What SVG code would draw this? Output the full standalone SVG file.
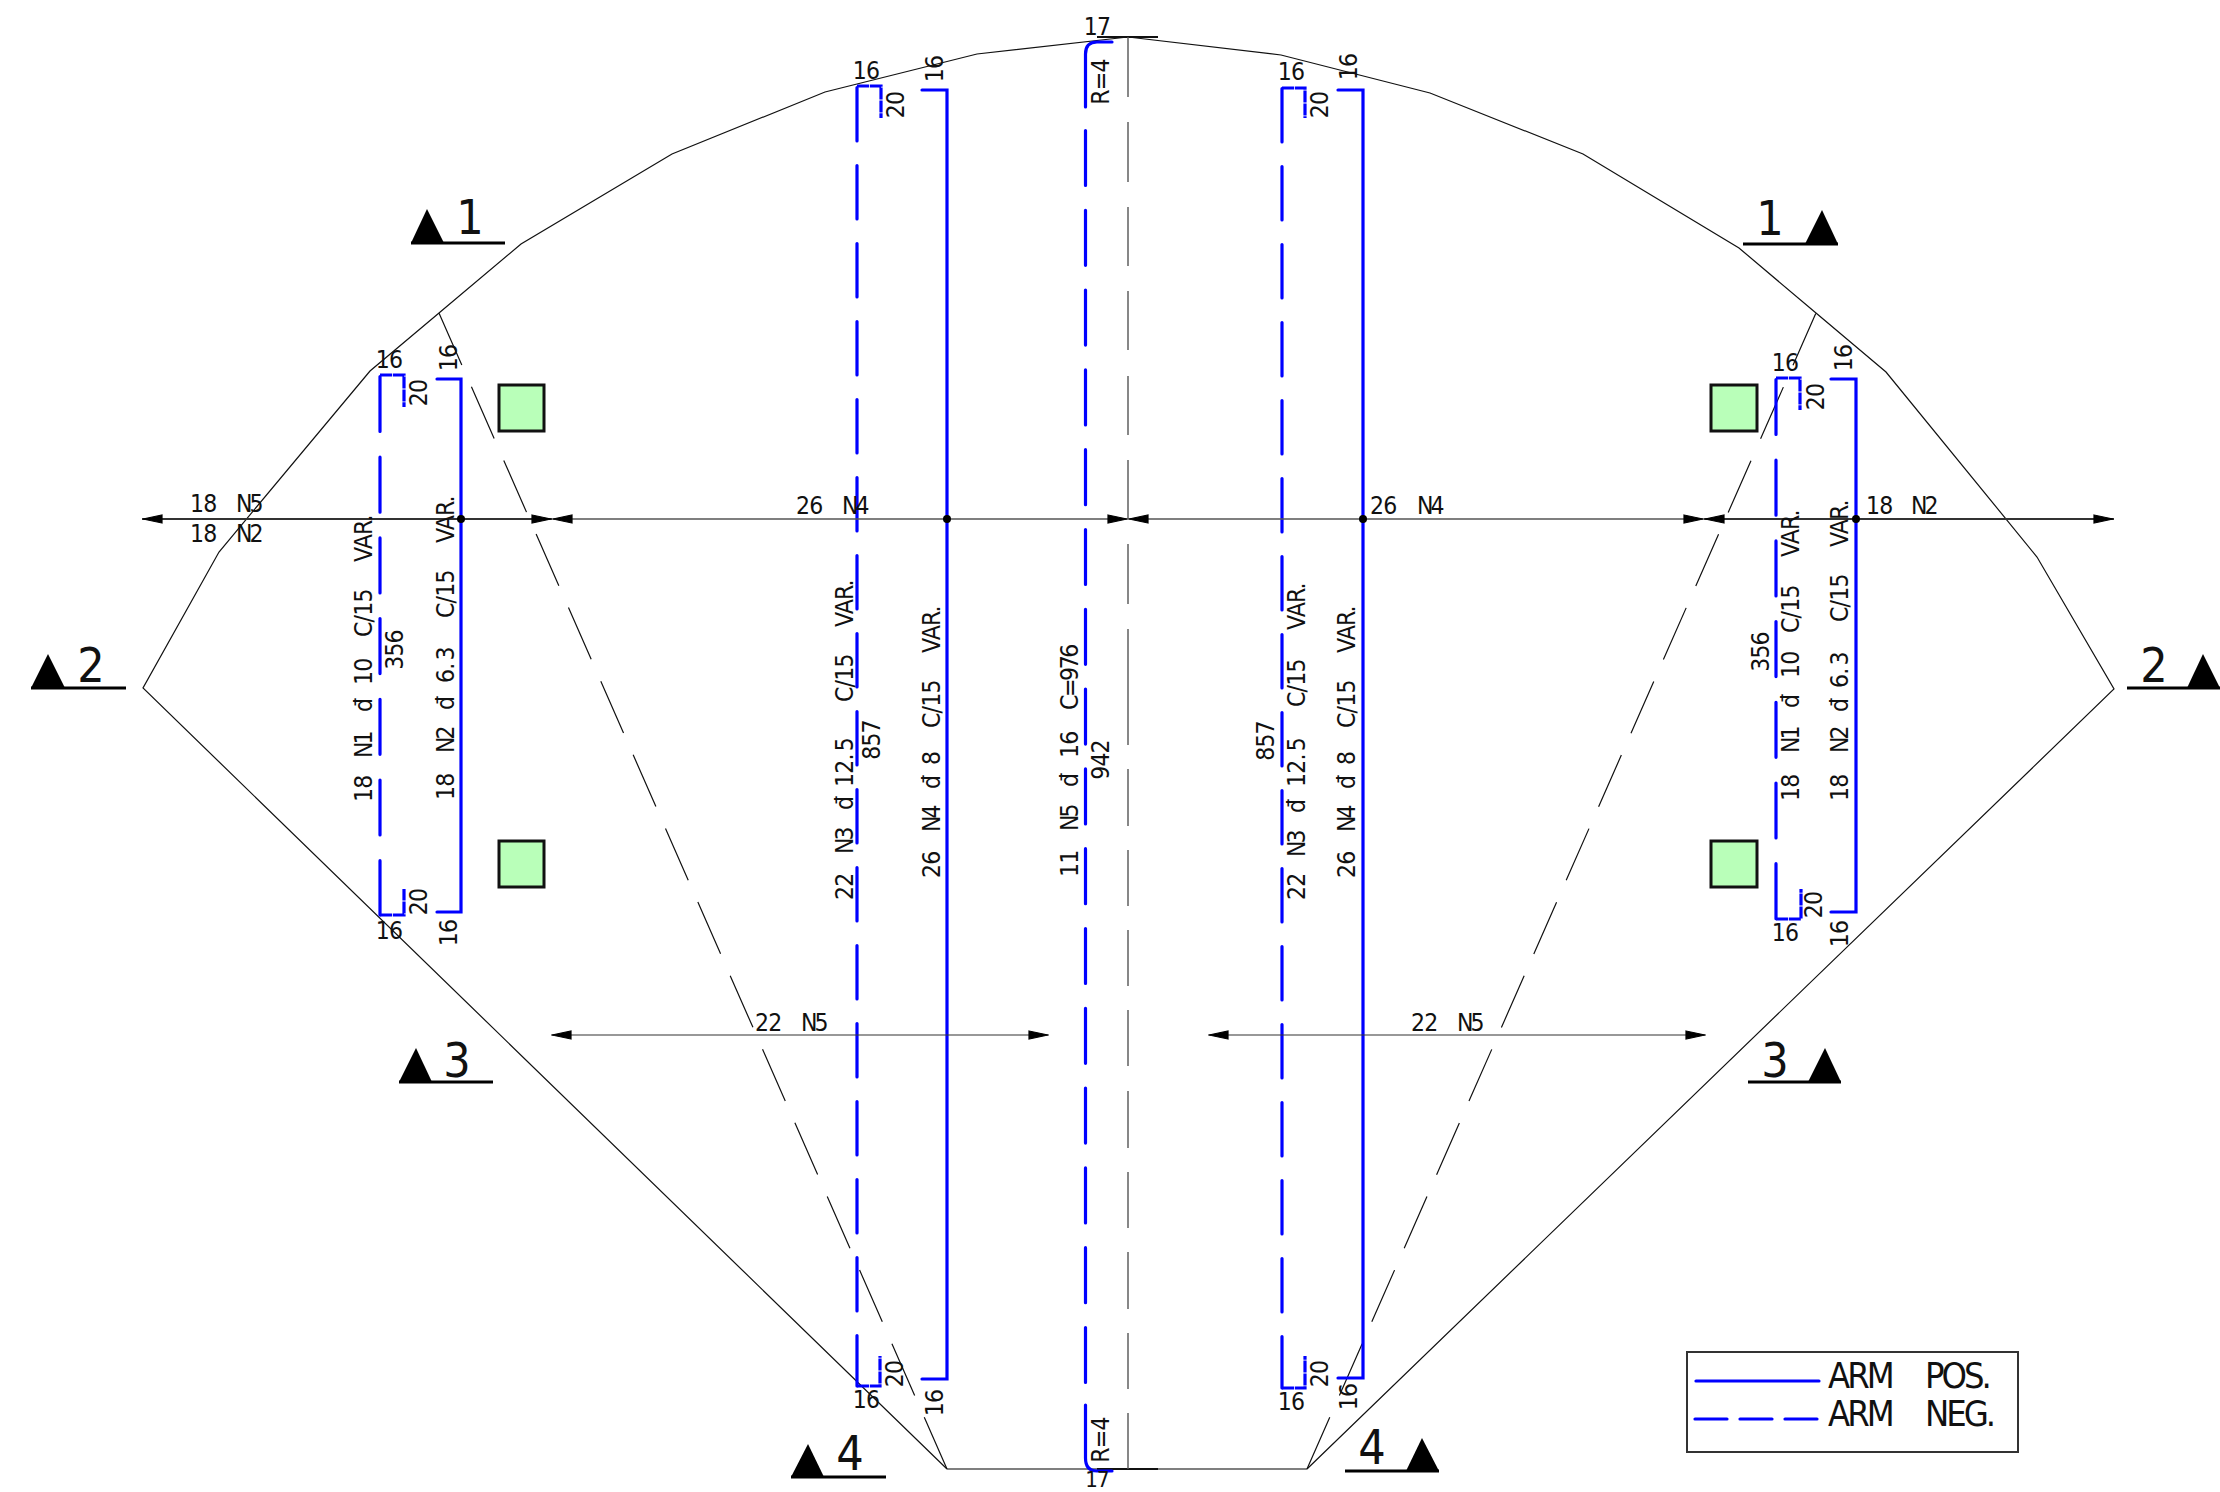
<svg xmlns="http://www.w3.org/2000/svg" width="2220" height="1492" viewBox="0 0 2220 1492">
<style>
text{font-family:"DejaVu Sans Condensed","DejaVu Sans",sans-serif;font-stretch:condensed;fill:#111;font-size:24.5px;letter-spacing:-.8px}
.c{text-anchor:middle}
.n{letter-spacing:-3px}
.sec{font-size:48px;text-anchor:middle;letter-spacing:0}
.thin{fill:none;stroke:#111;stroke-width:1.2}
.gray{fill:none;stroke:#555;stroke-width:1.4}
.gdash{fill:none;stroke:#111;stroke-width:1.2;stroke-dasharray:56.5 23.9}
.pos{fill:none;stroke:#00f;stroke-width:3.2;stroke-linecap:round;stroke-linejoin:miter}
.hook{stroke-dasharray:12 .8;stroke-linecap:butt}
.neg78{stroke-dasharray:53.5 24.5}
.neg80{stroke-dasharray:55 25.7}
.neg79{stroke-dasharray:55 24.8}
.dim{fill:none;stroke:#333;stroke-width:2;marker-start:url(#a);marker-end:url(#a)}
.dimg{fill:none;stroke:#555;stroke-width:1.5;marker-start:url(#a);marker-end:url(#a)}
.col{fill:#b9ffb9;stroke:#111;stroke-width:3}
.ul{fill:none;stroke:#000;stroke-width:3}
.leg{font-size:36px;letter-spacing:-3px}
</style>
<defs>
<marker id="a" markerUnits="userSpaceOnUse" markerWidth="24" markerHeight="12" refX="21" refY="5" orient="auto-start-reverse"><path d="M1,1 L20,5 L1,9 Z" fill="#000" stroke="#000" stroke-width="1.2"/></marker>
</defs>
<rect width="2220" height="1492" fill="#fff"/>

<g id="outline">
<polyline class="thin" points="1128,37 977,54 825,92 672,154 521,244 439,313 370,371 219,552 143,688 947,1469"/>
<polyline class="thin" points="1128,37 1281,55 1430,93 1583,154 1739,248 1816,313 1886,372 2037,557 2114,689 1307,1469"/>
<line class="gray" x1="947" y1="1469" x2="1307" y2="1469"/>
<path class="thin" d="M1097,37H1158M1097,1469H1158" style="stroke-width:1.8"/>
<path class="gray" d="M1128,37V97M1128,122V182M1128,207V266M1128,291V350M1128,376V435M1128,460V519M1128,544V604M1128,629V745M1128,769V826M1128,850V906M1128,930V986M1128,1010V1066M1128,1091V1148M1128,1172V1228M1128,1252V1309M1128,1333V1389M1128,1413V1469"/>
<line class="gdash" x1="947" y1="1469" x2="439" y2="313"/>
<line class="gdash" x1="1307" y1="1469" x2="1816" y2="313"/>
</g>

<g id="columns">
<rect class="col" x="499" y="385" width="45" height="46"/>
<rect class="col" x="499" y="841" width="45" height="46"/>
<rect class="col" x="1711" y="385" width="46" height="46"/>
<rect class="col" x="1711" y="841" width="46" height="46"/>
</g>

<g id="rebar">
<line class="pos neg80" x1="380" y1="376.5" x2="380" y2="915"/>
<path class="pos hook" d="M380,375H404V407"/>
<path class="pos hook" d="M380,915H404V889"/>
<path class="pos" d="M437,379H461V912H437"/>
<line class="pos neg78" x1="857" y1="87.5" x2="857" y2="1386"/>
<path class="pos hook" d="M857,86H881V118"/>
<path class="pos hook" d="M857,1386H880V1356"/>
<path class="pos" d="M922,90H947V1379H922"/>
<line class="pos neg79" x1="1085.5" y1="130.5" x2="1085.5" y2="1383"/>
<path class="pos" d="M1112,42H1097Q1085.5,42 1085.5,54V107"/>
<path class="pos" d="M1085.5,1405V1458Q1085.5,1471 1097,1471H1112"/>
<line class="pos neg78" x1="1282" y1="88.5" x2="1282" y2="1388"/>
<path class="pos hook" d="M1282,88H1305V118"/>
<path class="pos hook" d="M1282,1388H1305V1356"/>
<path class="pos" d="M1338,90H1363V1378H1338"/>
<line class="pos neg80" x1="1776" y1="379.5" x2="1776" y2="919"/>
<path class="pos hook" d="M1776,378H1800V410"/>
<path class="pos hook" d="M1776,919H1801V889"/>
<path class="pos" d="M1831,379H1856V912H1831"/>
</g>

<g id="connectors">
<line class="dim" x1="142" y1="519" x2="552" y2="519"/>
<line class="dimg" x1="552" y1="519" x2="1128" y2="519"/>
<line class="dimg" x1="1128" y1="519" x2="1704" y2="519"/>
<line class="dim" x1="1704" y1="519" x2="2114" y2="519"/>
<line class="dim" style="stroke-width:1.2" x1="551" y1="1035" x2="1049" y2="1035"/>
<line class="dim" style="stroke-width:1.2" x1="1208" y1="1035" x2="1706" y2="1035"/>
<circle cx="461" cy="519" r="4"/><circle cx="947" cy="519" r="4"/><circle cx="1363" cy="519" r="4"/><circle cx="1856" cy="519" r="4"/>
</g>

<g id="sections">
<polygon points="411,243 444,243 427,209"/><line class="ul" x1="411" y1="243" x2="505" y2="243"/><text class="sec" x="470" y="234">1</text>
<polygon points="31,688 65,688 48,654"/><line class="ul" x1="31" y1="688" x2="126" y2="688"/><text class="sec" x="91" y="682">2</text>
<polygon points="399,1082 432,1082 416,1048"/><line class="ul" x1="399" y1="1082" x2="493" y2="1082"/><text class="sec" x="457" y="1077">3</text>
<polygon points="791,1477 824,1477 808,1444"/><line class="ul" x1="791" y1="1477" x2="886" y2="1477"/><text class="sec" x="850" y="1470">4</text>
<polygon points="1805,244 1838,244 1822,210"/><line class="ul" x1="1743" y1="244" x2="1838" y2="244"/><text class="sec" x="1770" y="235">1</text>
<polygon points="2187,688 2220,688 2203,654"/><line class="ul" x1="2127" y1="688" x2="2220" y2="688"/><text class="sec" x="2154" y="682">2</text>
<polygon points="1808,1082 1841,1082 1825,1048"/><line class="ul" x1="1748" y1="1082" x2="1841" y2="1082"/><text class="sec" x="1775" y="1077">3</text>
<polygon points="1406,1471 1439,1471 1422,1438"/><line class="ul" x1="1345" y1="1471" x2="1439" y2="1471"/><text class="sec" x="1372" y="1464">4</text>
</g>

<g id="labels">
<text x="190" y="512">18<tspan class="n" x="236">N5</tspan></text>
<text x="190" y="542">18<tspan class="n" x="236">N2</tspan></text>
<text x="796" y="514">26<tspan class="n" x="842">N4</tspan></text>
<text x="1370" y="514">26<tspan class="n" x="1417">N4</tspan></text>
<text x="1866" y="514">18<tspan class="n" x="1911">N2</tspan></text>
<text x="755" y="1031">22<tspan class="n" x="801">N5</tspan></text>
<text x="1411" y="1031">22<tspan class="n" x="1457">N5</tspan></text>

<text transform="translate(372,802) rotate(-90)"><tspan x="0">18</tspan><tspan class="n" x="44">N1</tspan><tspan x="90">đ</tspan><tspan x="117">10</tspan><tspan x="165">C/15</tspan><tspan x="240">VAR.</tspan></text>
<text transform="translate(454,800) rotate(-90)"><tspan x="0">18</tspan><tspan class="n" x="47">N2</tspan><tspan x="90">đ</tspan><tspan x="117">6.<tspan dx="3">3</tspan></tspan><tspan x="182">C/15</tspan><tspan x="257">VAR.</tspan></text>
<text transform="translate(853,900) rotate(-90)"><tspan x="0">22</tspan><tspan class="n" x="46">N3</tspan><tspan x="90">đ</tspan><tspan x="113">12.<tspan dx="3">5</tspan></tspan><tspan x="198">C/15</tspan><tspan x="273">VAR.</tspan></text>
<text transform="translate(940,878) rotate(-90)"><tspan x="0">26</tspan><tspan class="n" x="46">N4</tspan><tspan x="89">đ</tspan><tspan x="113">8</tspan><tspan x="150">C/15</tspan><tspan x="225">VAR.</tspan></text>
<text transform="translate(1078,877) rotate(-90)"><tspan x="0">11</tspan><tspan class="n" x="46">N5</tspan><tspan x="90">đ</tspan><tspan x="119">16</tspan><tspan x="167" letter-spacing="-2.4">C=976</tspan></text>
<text transform="translate(1305,900) rotate(-90)"><tspan x="0">22</tspan><tspan class="n" x="43">N3</tspan><tspan x="87">đ</tspan><tspan x="113">12.<tspan dx="3">5</tspan></tspan><tspan x="193">C/15</tspan><tspan x="270">VAR.</tspan></text>
<text transform="translate(1355,878) rotate(-90)"><tspan x="0">26</tspan><tspan class="n" x="46">N4</tspan><tspan x="89">đ</tspan><tspan x="113">8</tspan><tspan x="150">C/15</tspan><tspan x="225">VAR.</tspan></text>
<text transform="translate(1799,801) rotate(-90)"><tspan x="0">18</tspan><tspan class="n" x="48">N1</tspan><tspan x="93">đ</tspan><tspan x="123">10</tspan><tspan x="168">C/15</tspan><tspan x="244">VAR.</tspan></text>
<text transform="translate(1848,801) rotate(-90)"><tspan x="0">18</tspan><tspan class="n" x="48">N2</tspan><tspan x="89">đ</tspan><tspan x="113">6.<tspan dx="3">3</tspan></tspan><tspan x="179">C/15</tspan><tspan x="254">VAR.</tspan></text>

<text class="c" transform="translate(403,650) rotate(-90)">356</text>
<text class="c" transform="translate(880,740) rotate(-90)">857</text>
<text class="c" transform="translate(1109,760) rotate(-90)">942</text>
<text class="c" transform="translate(1274,741) rotate(-90)">857</text>
<text class="c" transform="translate(1769,652) rotate(-90)">356</text>

<text class="c" x="389" y="368">16</text><text class="c" transform="translate(457,358) rotate(-90)">16</text><text class="c" transform="translate(427,393) rotate(-90)">20</text>
<text class="c" transform="translate(427,902) rotate(-90)">20</text><text class="c" x="389" y="939">16</text><text class="c" transform="translate(457,933) rotate(-90)">16</text>
<text class="c" x="866" y="79">16</text><text class="c" transform="translate(943,69) rotate(-90)">16</text><text class="c" transform="translate(904,105) rotate(-90)">20</text>
<text class="c" x="866" y="1408">16</text><text class="c" transform="translate(943,1403) rotate(-90)">16</text><text class="c" transform="translate(903,1374) rotate(-90)">20</text>
<text class="c" x="1291" y="80">16</text><text class="c" transform="translate(1357,67) rotate(-90)">16</text><text class="c" transform="translate(1328,105) rotate(-90)">20</text>
<text class="c" x="1291" y="1410">16</text><text class="c" transform="translate(1357,1397) rotate(-90)">16</text><text class="c" transform="translate(1328,1374) rotate(-90)">20</text>
<text class="c" x="1785" y="371">16</text><text class="c" transform="translate(1852,358) rotate(-90)">16</text><text class="c" transform="translate(1824,397) rotate(-90)">20</text>
<text class="c" transform="translate(1822,905) rotate(-90)">20</text><text class="c" x="1785" y="941">16</text><text class="c" transform="translate(1848,934) rotate(-90)">16</text>
<text class="c" x="1097" y="35">17</text><text class="c" x="1097" y="1487" style="font-size:22px">17</text>
<text class="c" transform="translate(1109,82) rotate(-90)">R=4</text>
<text class="c" transform="translate(1109,1440) rotate(-90)">R=4</text>
</g>

<g id="legend">
<rect x="1687" y="1352" width="331" height="100" fill="#fff" stroke="#333" stroke-width="2"/>
<line class="pos" x1="1696" y1="1381" x2="1819" y2="1381"/>
<path class="pos" d="M1695,1419H1727M1740,1419H1772M1785,1419H1817"/>
<text class="leg" x="1828" y="1388">ARM<tspan x="1925">POS.</tspan></text>
<text class="leg" x="1828" y="1426">ARM<tspan x="1925">NEG.</tspan></text>
</g>
</svg>
